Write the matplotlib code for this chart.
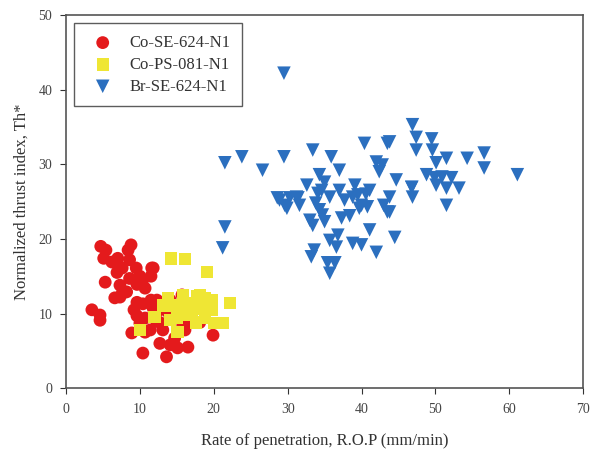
import matplotlib.pyplot as plt

# Co-SE-624-N1 (red circles)
co_se_rop = [4.7, 5.4, 5.1, 6.2, 7.0, 8.4, 8.8, 7.6, 8.6, 9.5, 10.0, 11.6, 11.5, 10.7, 9.6,
             8.6, 6.9, 7.3, 6.6, 8.2, 5.3, 9.6, 10.4, 11.5, 9.6, 10.0, 10.7, 11.8, 3.5, 4.6,
             4.6, 12.2, 11.4, 12.7, 13.1, 13.8, 15.1, 15.8, 14.7, 14.1, 15.1, 16.5, 12.7, 10.4,
             13.6, 19.9, 17.0, 16.1, 18.1, 12.3, 9.2, 10.7, 8.9, 7.3, 15.7, 14.1, 12.7, 11.8,
             10.3, 7.6]
co_se_th = [19.0, 18.5, 17.4, 16.9, 17.4, 18.5, 19.2, 16.1, 17.2, 16.1, 15.0, 16.1, 15.0, 13.4, 13.9,
            14.7, 15.5, 12.2, 12.1, 12.9, 14.2, 11.5, 11.3, 11.8, 9.7, 8.7, 9.4, 10.7, 10.5, 9.8,
            9.1, 9.1, 7.8, 8.8, 7.8, 10.2, 10.2, 8.4, 6.7, 5.8, 5.4, 5.5, 6.0, 4.7,
            4.2, 7.1, 9.1, 7.8, 8.8, 11.8, 10.5, 7.5, 7.4, 13.8, 12.5, 11.8, 10.5, 16.1,
            14.1, 12.7]

# Co-PS-081-N1 (yellow squares)
co_ps_rop = [14.2, 16.1, 19.1, 10.0, 12.0, 15.1, 13.8, 14.7, 15.8, 16.8, 17.8, 18.8, 19.7, 18.1,
             17.0, 16.1, 20.1, 21.2, 22.2, 18.8, 19.7, 15.0, 14.1, 17.6, 16.2, 13.1, 18.1, 16.8]
co_ps_th = [17.4, 17.3, 15.6, 7.8, 9.5, 7.5, 12.1, 11.1, 12.5, 11.4, 12.3, 12.1, 11.8, 10.7,
            10.2, 9.8, 8.7, 8.7, 11.4, 9.4, 10.5, 9.4, 9.1, 8.8, 11.1, 11.1, 12.5, 9.8]

# Br-SE-624-N1 (blue triangles)
br_se_rop = [29.5, 21.5, 23.8, 26.6, 29.5, 33.4, 35.9, 40.4, 43.5, 43.8, 46.9, 47.4, 49.5, 47.4,
             49.6, 51.5, 54.3, 56.6, 56.6, 61.1, 50.1, 48.8, 49.9, 50.9, 52.2, 50.1, 51.5, 53.2,
             46.8, 46.9, 44.7, 51.5, 43.8, 43.8, 43.5, 42.0, 42.8, 42.4, 37.0, 46.8, 40.8, 40.0,
             38.8, 37.7, 35.7, 37.3, 34.7, 41.1, 44.5, 38.8, 40.0, 42.0, 36.6, 35.7, 36.4, 35.7,
             28.9, 30.3, 29.9, 31.2, 32.6, 34.3, 34.6, 33.0, 33.4, 33.6, 33.2, 21.5, 21.2, 28.6,
             31.6, 29.6, 31.4, 34.3, 35.0, 39.5, 39.1, 41.1, 37.0, 35.0, 38.4, 39.7, 43.0, 34.1,
             35.4, 36.8, 40.6, 33.8]
br_se_th = [42.2, 30.2, 31.0, 29.2, 31.0, 31.9, 31.0, 32.8, 32.8, 33.0, 35.3, 33.6, 33.4, 31.9,
            31.9, 30.8, 30.8, 31.5, 29.5, 28.6, 30.2, 28.6, 28.2, 28.3, 28.2, 27.2, 26.8, 26.8,
            26.9, 25.6, 27.9, 24.5, 25.6, 23.6, 23.6, 30.3, 29.9, 29.0, 29.2, 26.9, 24.3, 24.5,
            25.6, 25.2, 25.6, 22.8, 23.2, 21.2, 20.2, 19.4, 19.2, 18.2, 18.9, 19.8, 16.8, 15.4,
            25.2, 25.5, 24.1, 25.6, 27.2, 28.6, 26.5, 22.5, 21.8, 18.5, 17.6, 21.6, 18.8, 25.5,
            24.5, 24.5, 25.5, 23.9, 22.3, 25.9, 27.2, 26.5, 26.5, 27.6, 23.1, 24.1, 24.5, 26.1,
            16.8, 20.5, 26.0, 24.8]

plt.rcParams['font.family'] = ['Liberation Serif', 'DejaVu Serif']

fig = plt.figure(figsize=(5.95, 4.54), dpi=100)
ax = fig.add_axes([0.111, 0.145, 0.869, 0.822])

ax.scatter(co_se_rop, co_se_th, s=85, marker='o', color='#e41a1c', edgecolors='none',
           label='Co-SE-624-N1', zorder=3)
ax.scatter(co_ps_rop, co_ps_th, s=80, marker='s', color='#efe634', edgecolors='none',
           label='Co-PS-081-N1', zorder=4)
ax.scatter(br_se_rop, br_se_th, s=95, marker='v', color='#2b6fbf', edgecolors='none',
           label='Br-SE-624-N1', zorder=3)

ax.set_xlim(0, 70)
ax.set_ylim(0, 50)
ax.set_xticks(range(0, 71, 10))
ax.set_yticks(range(0, 51, 10))
ax.tick_params(direction='out', length=4, labelsize=10, colors='#333333',
               labelcolor='#444444')
ax.tick_params(axis='x', pad=7)
ax.tick_params(axis='y', pad=6)
for sp in ax.spines.values():
    sp.set_color('#555555')
    sp.set_linewidth(1.2)

ax.set_xlabel('Rate of penetration, R.O.P (mm/min)', fontsize=12, color='#333333', labelpad=12)
ax.set_ylabel('Normalized thrust index, Th*', fontsize=12, color='#333333', labelpad=6)

leg = ax.legend(loc='upper left', fontsize=12, frameon=True, fancybox=False,
                edgecolor='#333333', handletextpad=0.6, borderpad=0.7,
                labelspacing=0.35, borderaxespad=0.5, markerscale=1.0)
leg.get_frame().set_linewidth(1.0)
for t in leg.get_texts():
    t.set_color('#333333')

fig.savefig('out.png', dpi=100)
